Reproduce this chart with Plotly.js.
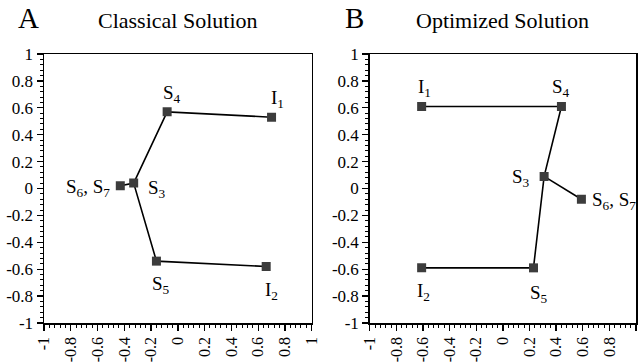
<!DOCTYPE html>
<html>
<head>
<meta charset="utf-8">
<script src="https://cdn.plot.ly/plotly-3.0.1.min.js"></script>
<style>html,body{margin:0;padding:0;background:#fff;}#chart{width:638px;height:362px;}</style>
</head>
<body>
<div id="chart"></div>
<script>
// Node labels
const nodeLabels = ["I<sub>1</sub>", "S<sub>4</sub>", "S<sub>3</sub>", "S<sub>5</sub>", "I<sub>2</sub>", "S<sub>6</sub>, S<sub>7</sub>"];
// Panel A: Classical Solution
const classicalX = [0.70, -0.08, -0.33, -0.16, 0.66, -0.43];
const classicalY = [0.53, 0.57, 0.04, -0.54, -0.58, 0.02];
// Panel B: Optimized Solution
const optimizedX = [-0.61, 0.44, 0.31, 0.23, -0.61, 0.59];
const optimizedY = [0.61, 0.61, 0.09, -0.59, -0.59, -0.08];
// Connection path (indices into the node arrays; null = break)
const path = [0, 1, 2, 3, 4, null, 2, 5];
// Axis tick values
const tickVals = [-1, -0.8, -0.6, -0.4, -0.2, 0, 0.2, 0.4, 0.6, 0.8, 1];
const tickText = ["-1", "-0.8", "-0.6", "-0.4", "-0.2", "0", "0.2", "0.4", "0.6", "0.8", "1"];

const serif = "'Liberation Serif', serif";

function pathCoords(arr) { return path.map(i => i === null ? null : arr[i]); }

function makeTraces(xs, ys, xa, ya) {
  return [
    {x: pathCoords(xs), y: pathCoords(ys), xaxis: xa, yaxis: ya, mode: "lines",
     line: {color: "#000", width: 1.6}, connectgaps: false, hoverinfo: "skip", showlegend: false},
    {x: xs, y: ys, xaxis: xa, yaxis: ya, mode: "markers",
     marker: {symbol: "square", size: 9, color: "#3c3c3c"}, showlegend: false}
  ];
}

const traces = [
  ...makeTraces(classicalX, classicalY, "x", "y"),
  ...makeTraces(optimizedX, optimizedY, "x2", "y2")
];

// Label placements (pixel offsets) per node, per panel
const offA = [
  {xs: 6, ys: 18, xa: "center"}, {xs: 5, ys: 18, xa: "center"}, {xs: 12, ys: -6, xa: "left"},
  {xs: 5, ys: -24, xa: "center"}, {xs: 5, ys: -24, xa: "center"}, {xs: -8, ys: -2, xa: "right"}
];
const offB = [
  {xs: 3, ys: 18, xa: "center"}, {xs: 0, ys: 18, xa: "center"}, {xs: -12, ys: -2, xa: "right"},
  {xs: 6, ys: -26, xa: "center"}, {xs: 2, ys: -24, xa: "center"}, {xs: 9, ys: -2, xa: "left"}
];

const annotations = [];
function addLabels(xs, ys, offs, xr, yr) {
  nodeLabels.forEach((t, i) => {
    annotations.push({x: xs[i], y: ys[i], xref: xr, yref: yr, text: t, showarrow: false,
      xanchor: offs[i].xa, yanchor: "middle", xshift: offs[i].xs, yshift: offs[i].ys,
      font: {family: serif, size: 19, color: "#000"}});
  });
}
addLabels(classicalX, classicalY, offA, "x", "y");
addLabels(optimizedX, optimizedY, offB, "x2", "y2");

annotations.push({text: "A", xref: "paper", yref: "paper", x: -0.027, y: 1.134, showarrow: false,
  xanchor: "center", yanchor: "middle", font: {family: serif, size: 29, color: "#000"}});
annotations.push({text: "B", xref: "paper", yref: "paper", x: 0.524, y: 1.134, showarrow: false,
  xanchor: "center", yanchor: "middle", font: {family: serif, size: 29, color: "#000"}});
annotations.push({text: "Classical Solution", xref: "paper", yref: "paper", x: 0.226, y: 1.125, showarrow: false,
  xanchor: "center", yanchor: "middle", font: {family: serif, size: 22, color: "#000"}});
annotations.push({text: "Optimized Solution", xref: "paper", yref: "paper", x: 0.775, y: 1.125, showarrow: false,
  xanchor: "center", yanchor: "middle", font: {family: serif, size: 22, color: "#000"}});

function axis(extra, isX) {
  return Object.assign({
    range: [-1, 1], tickmode: "array", tickvals: tickVals, ticktext: tickText,
    ticks: "outside", ticklen: 6, tickwidth: 1.3, tickcolor: "#000",
    minor: {dtick: 0.04, ticks: "outside", ticklen: 3, tickwidth: 1, tickcolor: "#000", showgrid: false},
    showline: true, linecolor: "#000", linewidth: 1.5, mirror: true,
    showgrid: false, zeroline: false, fixedrange: true,
    tickfont: {family: serif, size: isX ? 16 : 17, color: "#000"},
    tickangle: isX ? -90 : 0, ticklabelstandoff: 0
  }, extra);
}

const layout = {
  width: 638, height: 362,
  margin: {l: 44, r: 2, t: 54, b: 39},
  paper_bgcolor: "#fff", plot_bgcolor: "#fff",
  showlegend: false,
  xaxis: axis({domain: [0, 0.4522], anchor: "y"}, true),
  yaxis: axis({domain: [0, 1], anchor: "x"}, false),
  xaxis2: axis({domain: [0.5502, 1], anchor: "y2"}, true),
  yaxis2: axis({domain: [0, 1], anchor: "x2"}, false),
  annotations: annotations
};

Plotly.newPlot("chart", traces, layout, {displayModeBar: false, staticPlot: true});
</script>
</body>
</html>
